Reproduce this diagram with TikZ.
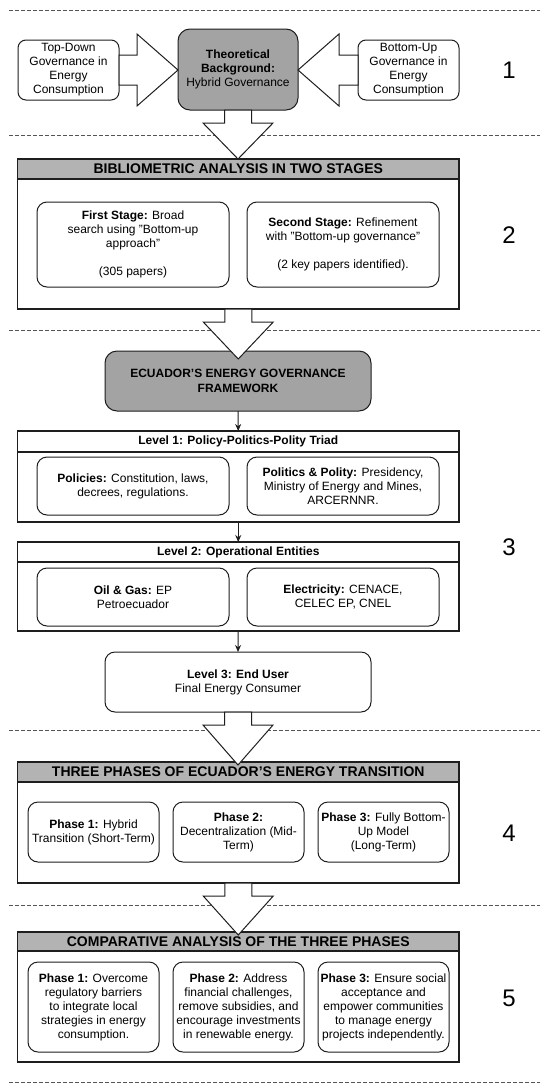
\documentclass[tikz,border=0pt]{standalone}
\usepackage{fontspec}
\setmainfont{Liberation Sans}
\usetikzlibrary{arrows.meta,calc}
\definecolor{boxgray}{HTML}{A3A3A3}
\definecolor{headgray}{HTML}{B3B3B3}
\definecolor{linec}{HTML}{1E1E1E}
\definecolor{dashc}{HTML}{555555}
\newcommand{\blkdown}[3]{%
  \draw[barrow] let \p1=(#1.south), \p2=(#2.north) in
    (\x1-13.5pt,\y1) -- (\x1-13.5pt,\y1-13pt) -- (\x1-35pt,\y1-13pt) -- (\x1,\y2-#3)
    -- (\x1+35pt,\y1-13pt) -- (\x1+13.5pt,\y1-13pt) -- (\x1+13.5pt,\y1) -- cycle;}
\begin{document}
\begin{tikzpicture}[x=1pt,y=-1pt,
  every node/.style={inner sep=0pt, outer sep=0pt},
  txt/.style={font=\fontsize{12}{14}\selectfont, align=center, text=black},
  rbox/.style={txt, draw=linec, line width=1pt, rounded corners=10pt, fill=white},
  gbox/.style={rbox, fill=boxgray, rounded corners=12pt},
  frame/.style={draw=linec, line width=1.2pt, fill=white, minimum width=441.5pt},
  hdr/.style={draw=linec, line width=1.2pt, fill=headgray, minimum width=441.5pt, text=black, font=\bfseries\fontsize{14}{16}\selectfont},
  lhdr/.style={hdr, fill=white, font=\bfseries\fontsize{12}{14}\selectfont},
  sep/.style={draw=dashc, line width=1pt, dash pattern=on 3.5pt off 2.5pt},
  barrow/.style={draw=linec, line width=1pt, fill=white, line join=miter},
  conn/.style={draw=linec, line width=1pt, -{Stealth[length=7pt,width=6pt]}},
  num/.style={font=\fontsize{24}{28}\selectfont, text=black}
]
\useasboundingbox[fill=white] (0,0) rectangle (550,1090);

% separators
\foreach \yy in {10,135,330,730,905,1082}
  \draw[sep] (9,\yy) -- (540,\yy);

% ---------- section 1
\node[rbox, rounded corners=8pt, minimum width=101pt, minimum height=60pt] (tdl) at (68.5,70)
  {Top-Down\\Governance in\\Energy\\Consumption};
\node[gbox, minimum width=120pt, minimum height=81pt] (theo) at (238,69.5)
  {\textbf{Theoretical}\\\textbf{Background:}\\Hybrid Governance};
\node[rbox, rounded corners=8pt, minimum width=101pt, minimum height=60pt] (bul) at (408.5,70)
  {Bottom-Up\\Governance in\\Energy\\Consumption};
\node[num] (n1) at (509,70) {1};

\draw[barrow] let \p1=(tdl.east), \p2=(theo.west) in
  (\x1,\y1+15pt) -- (\x1+18pt,\y1+15pt) -- (\x1+18pt,\y1+36pt) -- (\x2,\y1)
  -- (\x1+18pt,\y1-36pt) -- (\x1+18pt,\y1-15pt) -- (\x1,\y1-15pt) -- cycle;
\draw[barrow] let \p1=(bul.west), \p2=(theo.east) in
  (\x1,\y1+15pt) -- (\x1-19pt,\y1+15pt) -- (\x1-19pt,\y1+36pt) -- (\x2,\y1)
  -- (\x1-19pt,\y1-36pt) -- (\x1-19pt,\y1-15pt) -- (\x1,\y1-15pt) -- cycle;

% ---------- section 2
\node[frame, minimum height=150pt] (sec2) at (238.25,234) {};
\node[hdr, minimum height=20pt] (sec2h) at (238.25,169) {BIBLIOMETRIC ANALYSIS IN TWO STAGES};
\node[rbox, minimum width=192pt, minimum height=85pt] (s2a) at (133,244.5)
  {\textbf{First Stage:} Broad\\search using "Bottom-up\\approach"\\[14pt](305 papers)};
\node[rbox, minimum width=192pt, minimum height=85pt] (s2b) at (343,244.5)
  {\textbf{Second Stage:} Refinement\\with "Bottom-up governance"\\[14pt](2 key papers identified).};
\node[num] (n2) at (509,235) {2};

% ---------- section 3
\node[gbox, minimum width=266pt, minimum height=60pt, font=\bfseries\fontsize{12}{15}\selectfont] (ecu) at (238,381)
  {ECUADOR'S ENERGY GOVERNANCE\\FRAMEWORK};

\node[frame, minimum height=91pt] (l1) at (238.25,476.5) {};
\node[lhdr, minimum height=21pt] (l1h) at (238.25,441.5) {Level 1: Policy-Politics-Polity Triad};
\node[rbox, minimum width=192pt, minimum height=58pt] (l1a) at (133,486)
  {\textbf{Policies:} Constitution, laws,\\decrees, regulations.};
\node[rbox, minimum width=192pt, minimum height=58pt] (l1b) at (343,486)
  {\textbf{Politics \& Polity:} Presidency,\\Ministry of Energy and Mines,\\ARCERNNR.};

\node[frame, minimum height=89pt] (l2) at (238.25,586.5) {};
\node[lhdr, minimum height=20pt] (l2h) at (238.25,552) {Level 2: Operational Entities};
\node[rbox, minimum width=192pt, minimum height=58pt] (l2a) at (133,597)
  {\textbf{Oil \& Gas:} EP\\Petroecuador};
\node[rbox, minimum width=192pt, minimum height=58pt] (l2b) at (343,597)
  {\textbf{Electricity:} CENACE,\\CELEC EP, CNEL};

\node[rbox, minimum width=266pt, minimum height=60pt] (l3) at (238,682)
  {\textbf{Level 3: End User}\\Final Energy Consumer};
\node[num] (n3) at (509,547) {3};

\draw[conn] (ecu.south) -- (l1h.north);
\draw[conn] (l1.south) -- (l2h.north);
\draw[conn] (l2.south) -- (l3.north);

% ---------- section 4
\node[frame, minimum height=121pt] (sec4) at (238.25,822.5) {};
\node[hdr, minimum height=20pt] (sec4h) at (238.25,772) {THREE PHASES OF ECUADOR'S ENERGY TRANSITION};
\node[rbox, minimum width=131pt, minimum height=60pt] (p41) at (93.5,832)
  {\textbf{Phase 1:} Hybrid\\Transition (Short-Term)};
\node[rbox, minimum width=131pt, minimum height=60pt] (p42) at (238.5,832)
  {\textbf{Phase 2:}\\Decentralization (Mid-\\Term)};
\node[rbox, minimum width=131pt, minimum height=60pt] (p43) at (383.5,832)
  {\textbf{Phase 3:} Fully Bottom-\\Up Model\\(Long-Term)};
\node[num] (n4) at (509,833) {4};

% ---------- section 5
\node[frame, minimum height=130pt] (sec5) at (238.25,997) {};
\node[hdr, minimum height=19pt] (sec5h) at (238.25,941.5) {COMPARATIVE ANALYSIS OF THE THREE PHASES};
\node[rbox, minimum width=131pt, minimum height=90pt] (p51) at (93.5,1007)
  {\textbf{Phase 1:} Overcome\\regulatory barriers\\to integrate local\\strategies in energy\\consumption.};
\node[rbox, minimum width=131pt, minimum height=90pt] (p52) at (238.5,1007)
  {\textbf{Phase 2:} Address\\financial challenges,\\remove subsidies, and\\encourage investments\\in renewable energy.};
\node[rbox, minimum width=131pt, minimum height=90pt] (p53) at (383.5,1007)
  {\textbf{Phase 3:} Ensure social\\acceptance and\\empower communities\\to manage energy\\projects independently.};
\node[num] (n5) at (509,998) {5};

% ---------- block arrows between sections
\blkdown{theo}{sec2h}{0pt}
\blkdown{sec2}{ecu}{8pt}
\blkdown{l3}{sec4h}{3pt}
\blkdown{sec4}{sec5h}{3pt}
\end{tikzpicture}
\end{document}
